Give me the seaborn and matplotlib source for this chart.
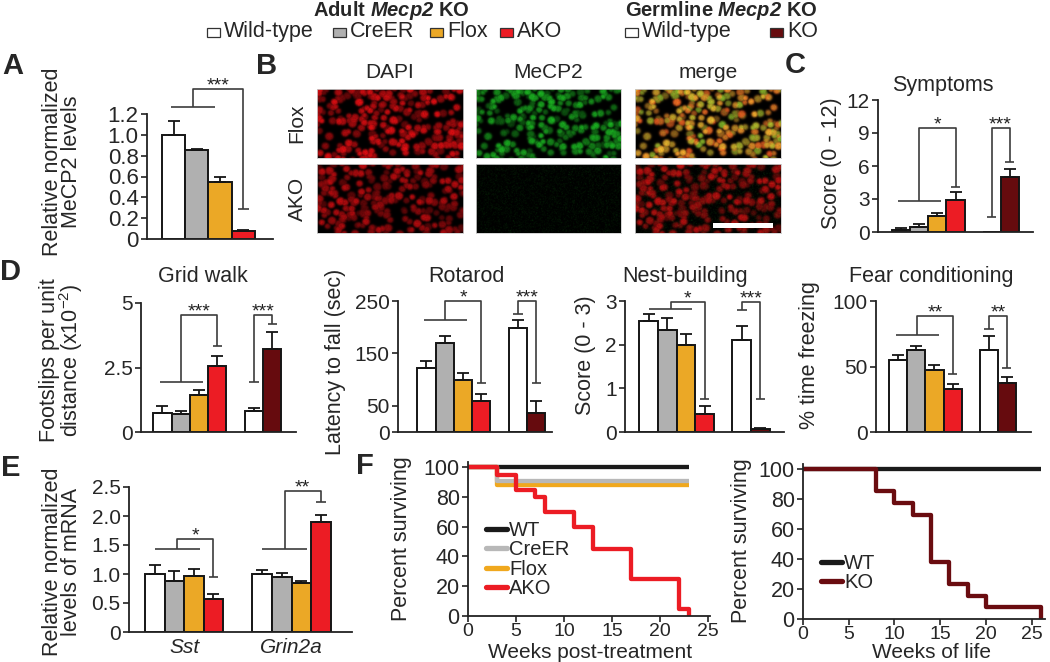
import numpy as np
import pandas as pd
import matplotlib
matplotlib.use("Agg")
import matplotlib.pyplot as plt
from matplotlib.patches import Rectangle
from matplotlib.lines import Line2D
import seaborn as sns

sns.set_style("ticks")
plt.rcParams["font.family"] = ["Liberation Sans", "DejaVu Sans"]
plt.rcParams["mathtext.fontset"] = "custom"
plt.rcParams["mathtext.rm"] = "Liberation Sans"
plt.rcParams["mathtext.it"] = "Liberation Sans:italic"
plt.rcParams["mathtext.bf"] = "Liberation Sans:bold"
plt.rcParams["mathtext.bfit"] = "Liberation Sans:italic:bold"

# ---------------- data ----------------
WHITE, GRAY, FLOX, AKO, KO = "#ffffff", "#b0b0b0", "#eba826", "#ec1c24", "#660b0e"
EDGE = "#151515"
LINE = "#3c3c3c"

adult_labels = ["Wild-type", "CreER", "Flox", "AKO"]
germ_labels = ["Wild-type", "KO"]

# A: MeCP2 protein levels
a_pos = [0, 1, 2, 3]
a_vals = [1.0, 0.85, 0.55, 0.08]
a_err = [0.135, 0.01, 0.05, 0.01]

# C: symptom score
six_pos = [0, 1, 2, 3, 5, 6]
c_vals = [0.2, 0.45, 1.45, 2.95, 0.0, 5.0]
c_err = [0.12, 0.3, 0.24, 0.7, 0.0, 0.77]

# D: behaviour
grid_vals = [0.73, 0.69, 1.43, 2.57, 0.81, 3.21]
grid_err = [0.29, 0.11, 0.2, 0.37, 0.12, 0.66]
rota_vals = [123, 170, 100, 59, 199, 36]
rota_err = [12, 14, 13, 14, 15, 23]
nest_vals = [2.54, 2.34, 1.99, 0.42, 2.11, 0.07]
nest_err = [0.17, 0.26, 0.26, 0.18, 0.32, 0.03]
fear_vals = [55, 62.3, 47.3, 33, 62.5, 37.2]
fear_err = [4.1, 3.3, 3.7, 4.0, 10.9, 5.1]

# E: mRNA
e_pos = [0, 1, 2, 3, 5.5, 6.5, 7.5, 8.5]
e_genes = ["Sst", "Grin2a"]
e_vals = [1.0, 0.885, 0.96, 0.57, 1.0, 0.94, 0.84, 1.89]
e_err = [0.15, 0.165, 0.13, 0.08, 0.07, 0.08, 0.04, 0.13]

# significance brackets: (left, right, y_left, y_top, y_right, stars, single_left)
a_sig = [((-0.1, 1.8), 3, 1.264, 1.44, 0.285, "***", False)]
c_sig = [((-0.2, 2.2), 3, 2.83, 9.42, 4.1, "*", False),
         (5, 6, 1.37, 9.42, 6.32, "***", True)]
grid_sig = [((-0.15, 2.2), 3, 1.95, 4.55, 3.33, "***", False),
            (5, 6, 1.95, 4.55, 4.2, "***", True)]
rota_sig = [((-0.15, 2.2), 3, 213, 250, 94, "*", False),
            (5, 6, 226, 250, 94, "***", True)]
nest_sig = [((0.05, 2.35), 3, 2.82, 2.98, 0.76, "*", False),
            (5, 6, 2.8, 2.98, 0.75, "***", True)]
fear_sig = [((-0.15, 2.25), 3, 73.9, 88.6, 44, "**", False),
            (5, 6, 79, 88.6, 48.6, "**", True)]
e_sig = [((0.0, 2.3), 3, 1.43, 1.61, 0.94, "*", False),
         ((5.5, 7.8), 8.5, 1.43, 2.43, 2.24, "**", False)]

# F: survival (weeks, percent surviving)
f_wt_t, f_wt_s = [0, 23], [100, 100]
f_cre_t, f_cre_s = [0, 3, 23], [100, 91, 91]
f_flox_t, f_flox_s = [0, 3, 23], [100, 88, 88]
f_ako_t = [0, 3, 5, 7, 8, 11, 13, 17, 22, 23]
f_ako_s = [100, 95, 85, 80, 70, 60, 45, 25, 5, 0]
g_wt_t, g_wt_s = [0, 26], [100, 100]
g_ko_t = [0, 8, 10, 12, 14, 16, 18, 20, 26]
g_ko_s = [100, 85, 77, 69, 38, 23, 15, 8, 0]

adult_colors = [WHITE, GRAY, FLOX, AKO]
six_colors = [WHITE, GRAY, FLOX, AKO, WHITE, KO]

# ---------------- helpers ----------------
W, H = 1050, 662
fig = plt.figure(figsize=(10.5, 6.62), dpi=100)


def px_axes(l, t, r, b):
    return fig.add_axes([l / W, 1 - b / H, (r - l) / W, (b - t) / H])


def ftext(x, y, s, **kw):
    return fig.text(x / W, 1 - y / H, s, **kw)


def style(ax, labelsize=15):
    sns.despine(ax=ax)
    for sp in ["left", "bottom"]:
        ax.spines[sp].set_color("#222222")
        ax.spines[sp].set_linewidth(1.3)
    ax.tick_params(axis="y", direction="out", length=4, width=1.2,
                   labelsize=labelsize, pad=2, color="#222222")
    ax.set_xlabel("")
    ax.set_ylabel("")


def bar_panel(ax, pos, vals, errs, colors, xlim, ylim, ticks, labels, sigs):
    df = pd.DataFrame({"pos": pos, "val": vals,
                       "bar": [f"b{i}" for i in range(len(pos))]})
    sns.barplot(data=df, x="pos", y="val", hue="bar",
                palette=dict(zip(df["bar"], colors)), native_scale=True,
                width=1.0, dodge=False, errorbar=None, saturation=1,
                edgecolor=EDGE, linewidth=1.4, legend=False, ax=ax)
    p = np.asarray(pos, float)
    v = np.asarray(vals, float)
    e = np.asarray(errs, float)
    keep = e > 0
    ax.errorbar(p[keep], v[keep], yerr=[np.zeros(keep.sum()), e[keep]],
                fmt="none", ecolor=EDGE, elinewidth=1.3, capsize=4,
                capthick=1.3)
    ax.set_xlim(xlim)
    ax.set_ylim(ylim)
    ax.set_yticks(ticks, labels)
    ax.set_xticks([])
    style(ax)
    for left, right, yl, yt, yr, stars, single in sigs:
        kw = dict(color=LINE, lw=1.2, clip_on=False, solid_capstyle="butt")
        if single:
            xl = left
            ax.plot([xl - 0.27, xl + 0.27], [yl, yl], **kw)
        else:
            ax.plot([left[0], left[1]], [yl, yl], **kw)
            xl = (left[0] + left[1]) / 2
        ax.plot([xl, xl, right, right], [yl, yt, yt, yr], **kw)
        ax.plot([right - 0.25, right + 0.25], [yr, yr], **kw)
        ax.annotate(stars, ((xl + right) / 2, yt), xytext=(0, -1),
                    textcoords="offset points", ha="center", va="baseline",
                    fontsize=14, color="#222222", annotation_clip=False)


def survival_panel(ax, curves, xlim, ylim, legend_xy, legend_names):
    handles = {}
    for name, t, s, c in curves:
        sns.lineplot(x=t, y=s, drawstyle="steps-post", color=c, lw=3.1,
                     ax=ax, solid_capstyle="butt", clip_on=False)
        handles[name] = Line2D([], [], color=c, lw=3.8)
    ax.set_xlim(xlim)
    ax.set_ylim(ylim)
    ax.set_xticks([0, 5, 10, 15, 20, 25])
    ax.set_yticks([0, 20, 40, 60, 80, 100])
    style(ax, labelsize=15.5)
    ax.tick_params(axis="x", direction="out", length=4, width=1.2,
                   labelsize=14, pad=1, color="#222222")
    ax.legend([handles[n] for n in legend_names], legend_names,
              loc="upper left", bbox_to_anchor=(legend_xy[0] / W, 1 - legend_xy[1] / H),
              bbox_transform=fig.transFigure, frameon=False, fontsize=14.5,
              handlelength=1.05, handletextpad=0.1, labelspacing=0.02,
              borderpad=0, borderaxespad=0)


# ---------------- top legend ----------------
ftext(391, 16, r"Adult $\mathbfit{Mecp2}$ KO", ha="center", va="baseline",
      fontsize=14.5, fontweight="bold")
ftext(721, 16, r"Germline $\mathbfit{Mecp2}$ KO", ha="center", va="baseline",
      fontsize=14.5, fontweight="bold")
legend_items = [(207, "Wild-type", WHITE), (333, "CreER", GRAY),
                (430, "Flox", FLOX), (500, "AKO", AKO),
                (625, "Wild-type", WHITE), (770, "KO", KO)]
for x, name, col in legend_items:
    fig.add_artist(Rectangle((x / W, 1 - 37 / H), 13 / W, 9 / H,
                             transform=fig.transFigure, fc=col, ec="#333333",
                             lw=0.9))
    ftext(x + 17, 37, name, ha="left", va="baseline", fontsize=15.5)

# ---------------- panel letters ----------------
for x, y, s in [(13, 66, "A"), (267, 66, "B"), (795, 65, "C"),
                (11, 272, "D"), (11, 468, "E"), (365, 466, "F")]:
    ftext(x, y, s, ha="center", va="center", fontsize=21, fontweight="bold")

# ---------------- A ----------------
ax = px_axes(147, 114, 273, 239)
bar_panel(ax, a_pos, a_vals, a_err, adult_colors, (-1.14, 4.27), (0, 1.2),
          [0, 0.2, 0.4, 0.6, 0.8, 1.0, 1.2],
          ["0", "0.2", "0.4", "0.6", "0.8", "1.0", "1.2"], a_sig)
ax.tick_params(axis="y", labelsize=16)
ftext(62, 162, "Relative normalized\nMeCP2 levels", rotation=90, ha="center",
      va="center", fontsize=15.5, linespacing=0.88)

# ---------------- B: micrographs (synthetic stand-in texture) ----------------
rng = np.random.default_rng(11)
IH, IW = 138, 292
yy, xx = np.mgrid[0:IH, 0:IW]


def nuclei(cy, cx, amp, rad):
    f = np.zeros((IH, IW))
    for y0, x0, a, r0 in zip(cy, cx, amp, rad):
        r = np.sqrt((yy - y0) ** 2 + ((xx - x0) * 0.95) ** 2)
        f = np.maximum(f, a / (1 + np.exp((r - r0) / 1.1)))
    return f


def cells(n):
    return (rng.uniform(-4, IH + 4, n), rng.uniform(-4, IW + 4, n),
            rng.uniform(0.4, 1.0, n), rng.uniform(5.0, 8.0, n))


cy, cx, amp, rad = cells(250)
flox_dapi = nuclei(cy, cx, amp, rad) * rng.uniform(0.7, 1.0, (IH, IW))
flox_mecp2 = nuclei(cy, cx, rng.uniform(0.35, 1.0, len(cy)), rad * 0.95) * rng.uniform(0.7, 1.0, (IH, IW))
cy2, cx2, amp2, rad2 = cells(230)
ako_dapi = nuclei(cy2, cx2, amp2 * 0.85, rad2) * rng.uniform(0.7, 1.0, (IH, IW))
ako_mecp2 = 0.3 * rng.uniform(0, 1, (IH, IW)) ** 10


def rgb(red, green):
    img = np.zeros((IH, IW, 3))
    img[..., 0] = np.clip(1.0 * red + 0.12 * green, 0, 1)
    img[..., 1] = np.clip(0.06 * red + 0.8 * green, 0, 1)
    img[..., 2] = np.clip(0.08 * red + 0.15 * green, 0, 1)
    return img


images = [[rgb(flox_dapi, 0 * flox_dapi), rgb(0 * flox_mecp2, flox_mecp2), rgb(flox_dapi, flox_mecp2)],
          [rgb(ako_dapi, 0 * ako_dapi), rgb(0 * ako_mecp2, ako_mecp2), rgb(ako_dapi, ako_mecp2)]]
col_x = [(317, 463), (476, 621), (635, 781)]
row_y = [(89, 158), (164, 233)]
for r, (t, b) in enumerate(row_y):
    for c, (l, rr) in enumerate(col_x):
        iax = px_axes(l, t, rr, b)
        iax.imshow(images[r][c], aspect="auto", interpolation="bilinear")
        iax.set_xticks([])
        iax.set_yticks([])
        for sp in iax.spines.values():
            sp.set_color("#cccccc")
            sp.set_linewidth(0.6)
        if r == 1 and c == 2:
            iax.add_patch(Rectangle((0.534, 0.07), 0.41, 0.075,
                                    transform=iax.transAxes, fc="white",
                                    ec="none"))
for (l, rr), name in zip(col_x, ["DAPI", "MeCP2", "merge"]):
    ftext((l + rr) / 2, 73, name, ha="center", va="center", fontsize=15)
for (t, b), name in zip(row_y, ["Flox", "AKO"]):
    ftext(297, (t + b) / 2, name, ha="center", va="center", rotation=90,
          fontsize=15)

# ---------------- C ----------------
ax = px_axes(878, 100, 1033, 232)
bar_panel(ax, six_pos, c_vals, c_err, six_colors, (-1.3, 7.3), (0, 12),
          [0, 3, 6, 9, 12], ["0", "3", "6", "9", "12"], c_sig)
ftext(943, 85, "Symptoms", ha="center", va="center", fontsize=15.5)
ftext(831, 163, "Score (0 - 12)", rotation=90, ha="center", va="center",
      fontsize=15.5)

# ---------------- D ----------------
ax = px_axes(141, 303, 296, 432)
bar_panel(ax, six_pos, grid_vals, grid_err, six_colors, (-1.17, 7.3), (0, 5),
          [0, 2.5, 5], ["0", "2.5", "5"], grid_sig)
ftext(203, 276, "Grid walk", ha="center", va="center", fontsize=15.5)
ftext(62, 360, "Footslips per unit\ndistance (x10$^{\\mathregular{-2}}$)",
      rotation=90, ha="center", va="center", fontsize=15.5, linespacing=0.88)

ax = px_axes(398, 301, 552, 432)
bar_panel(ax, six_pos, rota_vals, rota_err, six_colors, (-1.56, 6.87),
          (0, 250), [0, 50, 150, 250], ["0", "50", "150", "250"], rota_sig)
ftext(466, 276, "Rotarod", ha="center", va="center", fontsize=15.5)
ftext(335, 362, "Latency to fall (sec)", rotation=90, ha="center",
      va="center", fontsize=15.5)

ax = px_axes(625, 301, 784, 432)
bar_panel(ax, six_pos, nest_vals, nest_err, six_colors, (-1.26, 7.26),
          (0, 3), [0, 1, 2, 3], ["0", "1", "2", "3"], nest_sig)
ftext(685, 276, "Nest-building", ha="center", va="center", fontsize=15.5)
ftext(585, 355, "Score (0 - 3)", rotation=90, ha="center", va="center",
      fontsize=15.5)

ax = px_axes(876, 301, 1031, 432)
bar_panel(ax, six_pos, fear_vals, fear_err, six_colors, (-1.23, 7.33),
          (0, 100), [0, 50, 100], ["0", "50", "100"], fear_sig)
ftext(931, 276, "Fear conditioning", ha="center", va="center", fontsize=15.5)
ftext(810, 355, "% time freezing", rotation=90, ha="center", va="center",
      fontsize=15.5)

# ---------------- E ----------------
ax = px_axes(129, 487, 352, 632)
bar_panel(ax, e_pos, e_vals, e_err, adult_colors * 2, (-1.33, 10.1),
          (0, 2.5), [0, 0.5, 1.0, 1.5, 2.0, 2.5],
          ["0", "0.5", "1.0", "1.5", "2.0", "2.5"], e_sig)
ax.set_xticks([1.5, 7.0], e_genes, fontstyle="italic", fontsize=15)
ax.tick_params(axis="x", length=0, pad=4)
ftext(62, 562, "Relative normalized\nlevels of mRNA", rotation=90,
      ha="center", va="center", fontsize=15.5, linespacing=0.88)

# ---------------- F ----------------
ax = px_axes(468, 462, 710, 616)
survival_panel(ax, [("WT", f_wt_t, f_wt_s, "#1a1a1a"),
                    ("Flox", f_flox_t, f_flox_s, "#f0a81e"),
                    ("CreER", f_cre_t, f_cre_s, "#b8b8b8"),
                    ("AKO", f_ako_t, f_ako_s, AKO)],
               (0, 25.2), (0, 103.5), (486, 521),
               ["WT", "CreER", "Flox", "AKO"])
ftext(590, 652, "Weeks post-treatment", ha="center", va="center", fontsize=15)
ftext(401, 539, "Percent surviving", rotation=90, ha="center", va="center",
      fontsize=15.5)

ax = px_axes(803, 464, 1045, 619)
survival_panel(ax, [("WT", g_wt_t, g_wt_s, "#1a1a1a"),
                    ("KO", g_ko_t, g_ko_s, "#6a0c10")],
               (0, 26.45), (0, 103.3), (821, 554), ["WT", "KO"])
ftext(932, 653, "Weeks of life", ha="center", va="center", fontsize=15)
ftext(741, 541, "Percent surviving", rotation=90, ha="center", va="center",
      fontsize=15.5)

fig.savefig("out.png", dpi=100)
